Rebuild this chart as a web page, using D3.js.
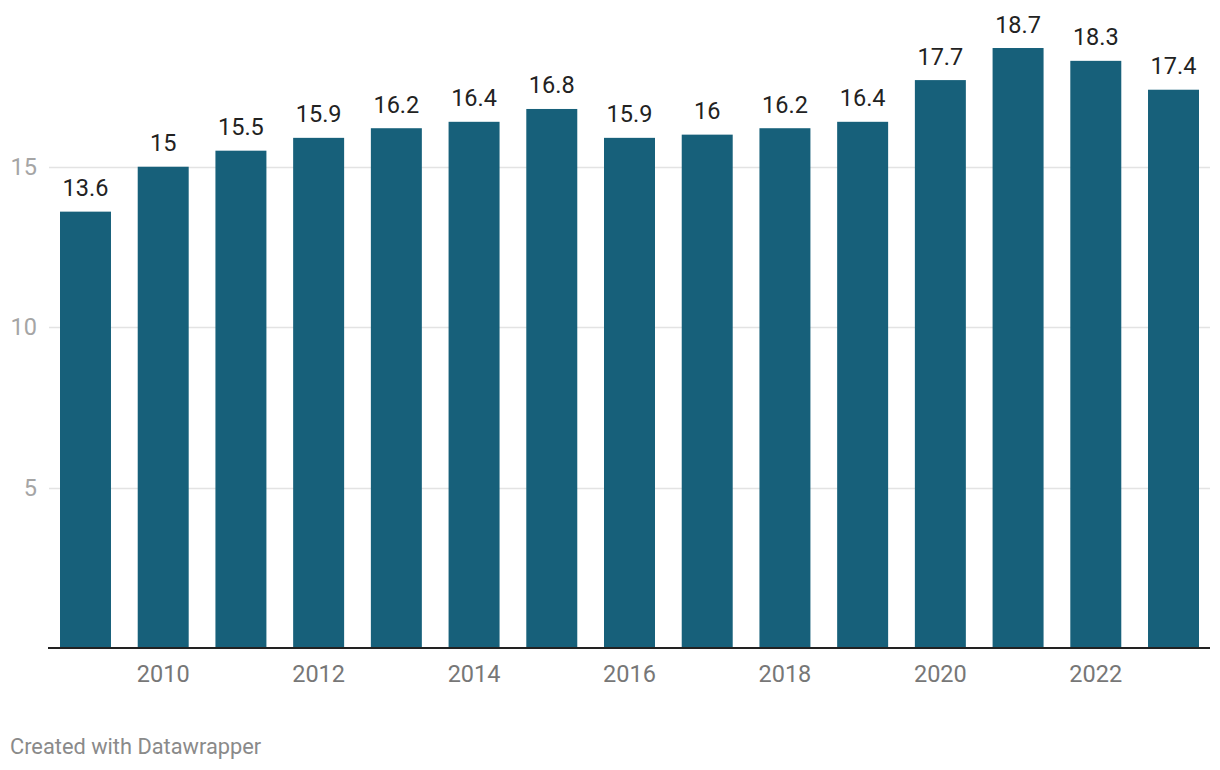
<!DOCTYPE html>
<html><head><meta charset="utf-8">
<script src="https://cdn.jsdelivr.net/npm/d3@7"></script>
<style>body{margin:0;background:#fff;}svg{display:block;font-family:Roboto,sans-serif;}</style>
</head><body>
<svg id="chart" width="1220" height="770"></svg>
<script>
const years = [2009,2010,2011,2012,2013,2014,2015,2016,2017,2018,2019,2020,2021,2022,2023];
const values = [13.6,15,15.5,15.9,16.2,16.4,16.8,15.9,16,16.2,16.4,17.7,18.7,18.3,17.4];
const yTicks = [5,10,15];
const xTickYears = [2010,2012,2014,2016,2018,2020,2022];

const svg = d3.select("#chart");
const x = d3.scaleBand().domain(years).range([60,1199]).paddingInner(0.344).paddingOuter(0);
const y = d3.scaleLinear().domain([0,20]).range([648,6.3]);

// gridlines
svg.append("g").selectAll("line").data(yTicks).join("line")
  .attr("x1",49).attr("x2",1210)
  .attr("y1",d=>Math.round(y(d))+0.5).attr("y2",d=>Math.round(y(d))+0.5)
  .attr("stroke","#e3e3e3").attr("stroke-width",1.5);
svg.append("g").selectAll("text").data(yTicks).join("text")
  .attr("x",37).attr("y",d=>y(d)).attr("dy","0.35em")
  .attr("text-anchor","end").attr("fill","#a5a5a5").attr("font-size",23.5)
  .text(d=>d);

// bars
svg.append("g").selectAll("rect").data(values).join("rect")
  .attr("x",(d,i)=>x(years[i])).attr("width",x.bandwidth())
  .attr("y",d=>y(d)).attr("height",d=>y(0)-y(d))
  .attr("fill","#17607a");

// value labels
svg.append("g").selectAll("text").data(values).join("text")
  .attr("x",(d,i)=>x(years[i])+x.bandwidth()/2).attr("y",d=>y(d)-15.5)
  .attr("text-anchor","middle").attr("fill","#222").attr("font-size",23.5)
  .text(d=>d);

// axis line
svg.append("line").attr("x1",48).attr("x2",1210).attr("y1",y(0)).attr("y2",y(0))
  .attr("stroke","#222").attr("stroke-width",2);

// x labels
svg.append("g").selectAll("text").data(xTickYears).join("text")
  .attr("x",d=>x(d)+x.bandwidth()/2).attr("y",682)
  .attr("text-anchor","middle").attr("fill","#777").attr("font-size",23.5)
  .text(d=>d);

svg.append("text").attr("x",10).attr("y",754).attr("fill","#8a8a8a")
  .attr("font-size",21.8).text("Created with Datawrapper");
</script>
</body></html>
